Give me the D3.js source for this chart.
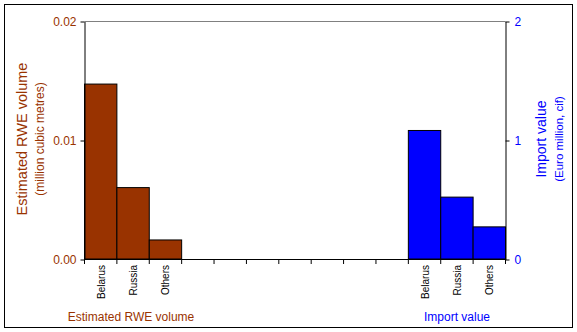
<!DOCTYPE html>
<html>
<head>
<meta charset="utf-8">
<script src="https://cdn.jsdelivr.net/npm/d3@7/dist/d3.min.js"></script>
<style>
  html, body { margin: 0; padding: 0; background: #fff; }
  svg { display: block; font-family: Arial, "Liberation Sans", sans-serif; }
</style>
</head>
<body>
<svg id="chart" width="577" height="332"></svg>
<script>
// Category slots along the shared x axis: volume group, empty gap, value group
const volumeCountries = ["Belarus", "Russia", "Others"];
const valueCountries = ["Belarus", "Russia", "Others"];
const gapSlots = 7;

// Estimated RWE volume (million cubic metres)
const volumeValues = [0.0147, 0.0060, 0.0016];
// Import value (Euro million, cif)
const importValues = [1.08, 0.52, 0.27];

const volumeTicks = [0, 0.01, 0.02];
const importTicks = [0, 1, 2];

const BROWN = "#993300";
const BLUE = "#0000ff";

const svg = d3.select("#chart");
const plotLeft = 84.5, plotRight = 505.5, plotTop = 21, plotBottom = 259;

// Build slot keys so each bar sits in its own band
const slots = [];
volumeCountries.forEach((c, i) => slots.push({ key: "v" + i, label: c }));
for (let i = 0; i < gapSlots; i++) slots.push({ key: "g" + i, label: "" });
valueCountries.forEach((c, i) => slots.push({ key: "i" + i, label: c }));

const x = d3.scaleBand().domain(slots.map(s => s.key)).range([plotLeft, plotRight]).padding(0);
const yL = d3.scaleLinear().domain([0, 0.02]).range([plotBottom, plotTop]);
const yR = d3.scaleLinear().domain([0, 2]).range([plotBottom, plotTop]);

// Outer frame
svg.append("rect").attr("x", 4.5).attr("y", 4.5).attr("width", 568).attr("height", 323)
  .attr("fill", "none").attr("stroke", "#000").attr("stroke-width", 1);

// Top gridline
svg.append("line").attr("x1", plotLeft).attr("x2", plotRight).attr("y1", yL(0.02) + 0.5).attr("y2", yL(0.02) + 0.5)
  .attr("stroke", "#808080").attr("stroke-width", 1);

// Volume bars
svg.append("g").selectAll("rect").data(volumeValues).join("rect")
  .attr("x", (d, i) => x("v" + i))
  .attr("y", d => yL(d))
  .attr("width", x.bandwidth())
  .attr("height", d => yL(0) - yL(d))
  .attr("fill", BROWN).attr("stroke", "#000").attr("stroke-width", 1);

// Import value bars
svg.append("g").selectAll("rect").data(importValues).join("rect")
  .attr("x", (d, i) => x("i" + i))
  .attr("y", d => yR(d))
  .attr("width", x.bandwidth())
  .attr("height", d => yR(0) - yR(d))
  .attr("fill", BLUE).attr("stroke", "#000").attr("stroke-width", 1);

// Left axis
const gL = svg.append("g").attr("transform", `translate(${plotLeft},0.5)`)
  .call(d3.axisLeft(yL).tickValues(volumeTicks).tickFormat(d3.format(".2f")).tickSize(4).tickSizeOuter(0));
gL.select(".domain").attr("stroke", "#000");
gL.selectAll(".tick line").attr("stroke", "#000");
gL.selectAll(".tick text").attr("fill", BROWN).attr("font-size", 12).attr("x", -8)
  .attr("font-family", "Arial, 'Liberation Sans', sans-serif");

// Right axis
const gR = svg.append("g").attr("transform", `translate(${plotRight},0.5)`)
  .call(d3.axisRight(yR).tickValues(importTicks).tickFormat(d3.format("d")).tickSize(4).tickSizeOuter(0));
gR.select(".domain").attr("stroke", "#000");
gR.selectAll(".tick line").attr("stroke", "#000");
gR.selectAll(".tick text").attr("fill", BLUE).attr("font-size", 12).attr("x", 9)
  .attr("font-family", "Arial, 'Liberation Sans', sans-serif");

// Bottom axis with ticks at band boundaries
const boundaries = slots.map(s => x(s.key)).concat([plotRight]);
const gB = svg.append("g");
gB.append("line").attr("x1", plotLeft).attr("x2", plotRight).attr("y1", plotBottom + 0.5).attr("y2", plotBottom + 0.5)
  .attr("stroke", "#000");
gB.selectAll("line.tk").data(boundaries).join("line").attr("class", "tk")
  .attr("x1", d => d).attr("x2", d => d).attr("y1", plotBottom).attr("y2", plotBottom + 5)
  .attr("stroke", "#000");
gB.selectAll("text").data(slots.filter(s => s.label)).join("text")
  .attr("transform", s => `translate(${x(s.key) + x.bandwidth() / 2 + 4},${plotBottom + 6}) rotate(-90)`)
  .attr("text-anchor", "end")
  .attr("font-size", 10)
  .attr("fill", "#000")
  .text(s => s.label);

// Left axis title
const tL = svg.append("text").attr("transform", `translate(27,139) rotate(-90)`)
  .attr("text-anchor", "middle").attr("fill", BROWN);
tL.append("tspan").attr("x", 0).attr("dy", 0).attr("font-size", 14.5).text("Estimated RWE volume");
tL.append("tspan").attr("x", 0).attr("dy", 17).attr("font-size", 12).text("(million cubic metres)");

// Right axis title
const tR = svg.append("text").attr("transform", `translate(546,139) rotate(-90)`)
  .attr("text-anchor", "middle").attr("fill", BLUE);
tR.append("tspan").attr("x", 0).attr("dy", 0).attr("font-size", 14).text("Import value");
tR.append("tspan").attr("x", 0).attr("dy", 17).attr("font-size", 11.5).text("(Euro million, cif)");

// Group captions below the axis
svg.append("text").attr("x", 131).attr("y", 321).attr("text-anchor", "middle")
  .attr("font-size", 12).attr("fill", BROWN).text("Estimated RWE volume");
svg.append("text").attr("x", 457).attr("y", 321).attr("text-anchor", "middle")
  .attr("font-size", 12).attr("fill", BLUE).text("Import value");
</script>
</body>
</html>
